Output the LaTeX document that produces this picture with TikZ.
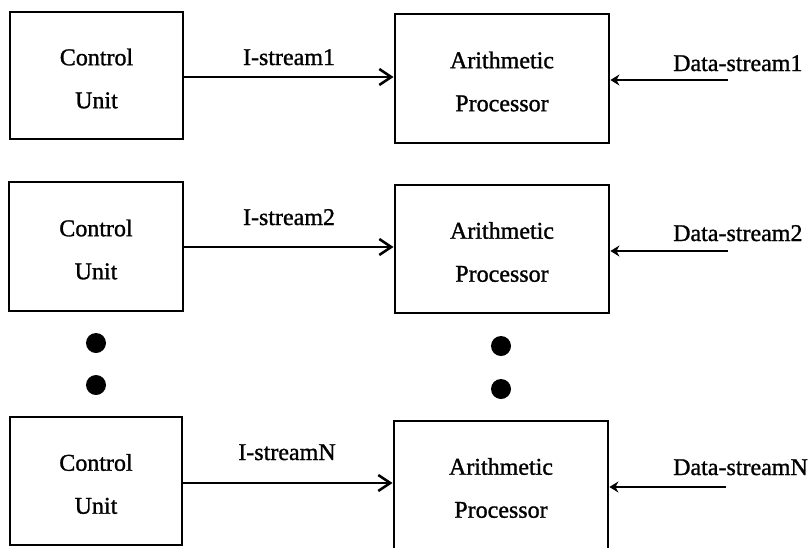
\documentclass[tikz,border=0pt]{standalone}
\usepackage{fontspec}
\newfontfamily\heavyserif[FakeBold=1.2]{Liberation Serif}
\usetikzlibrary{arrows.meta}
\begin{document}
\begin{tikzpicture}[x=1pt,y=-1pt,
  unitbox/.style={draw, line width=2.8pt, inner sep=0pt},
  boxtext/.style={inner sep=0pt, align=center,
    font=\heavyserif\fontsize{24}{43}\selectfont},
  lbl/.style={inner sep=0pt, font=\heavyserif\fontsize{24}{28}\selectfont},
  istream/.style={line width=2.8pt, -{Straight Barb[length=12pt,width=16pt,line width=2.6pt]}},
  dstream/.style={line width=2.8pt, -{Stealth[length=9pt,width=11pt]}},
  dot/.style={circle, fill=black, inner sep=0pt, minimum size=20pt}]
\useasboundingbox (0,0) rectangle (809,547);
\clip (0,0) rectangle (809,547);

% control units
\node[unitbox, minimum width=173pt, minimum height=127pt] (cu1) at (96.5,75.5) {};
\node[unitbox, minimum width=174pt, minimum height=129pt] (cu2) at (96,246.5) {};
\node[unitbox, minimum width=172pt, minimum height=128pt] (cu3) at (96,481) {};
\node[boxtext] (cu1t) at ([yshift=-3pt]cu1.center) {Control\\Unit};
\node[boxtext] (cu2t) at ([yshift=-3pt]cu2.center) {Control\\Unit};
\node[boxtext] (cu3t) at ([yshift=-3pt]cu3.center) {Control\\Unit};

% arithmetic processors
\node[unitbox, minimum width=214pt, minimum height=129pt] (ap1) at (502,78.5) {};
\node[unitbox, minimum width=214pt, minimum height=128pt] (ap2) at (502,249) {};
\node[unitbox, minimum width=214pt, minimum height=137pt] (ap3) at (501,489.5) {};
\node[boxtext] (ap1t) at ([yshift=-3pt]ap1.center) {Arithmetic\\Processor};
\node[boxtext] (ap2t) at ([yshift=-3pt]ap2.center) {Arithmetic\\Processor};
\node[boxtext] (ap3t) at (501,488) {Arithmetic\\Processor};

% instruction streams
\coordinate (i1) at (0,77);
\coordinate (i2) at (0,247);
\coordinate (i3) at (0,483);
\draw[istream] (cu1.east |- i1) -- (ap1.west |- i1);
\draw[istream] (cu2.east |- i2) -- (ap2.west |- i2);
\draw[istream] (cu3.east |- i3) -- (ap3.west |- i3);
\node[lbl, anchor=base] (il1) at (289,65) {I-stream1};
\node[lbl, anchor=base] (il2) at (289,225) {I-stream2};
\node[lbl, anchor=base] (il3) at (287,460) {I-streamN};

% data streams
\coordinate (d1) at (728,80);
\coordinate (d2) at (728,251);
\coordinate (d3) at (726,487);
\draw[dstream] (d1) -- (ap1.east |- d1);
\draw[dstream] (d2) -- (ap2.east |- d2);
\draw[dstream] (d3) -- (ap3.east |- d3);
\node[lbl, anchor=base west] (dl1) at (673,71) {Data-stream1};
\node[lbl, anchor=base west] (dl2) at (673,241) {Data-stream2};
\node[lbl, anchor=base west] (dl3) at (673,475) {Data-streamN};

% ellipsis dots
\node[dot] (ldot1) at (96,343) {};
\node[dot] (ldot2) at (96,385) {};
\node[dot] (rdot1) at (501,346) {};
\node[dot] (rdot2) at (501,389) {};
\end{tikzpicture}
\end{document}
